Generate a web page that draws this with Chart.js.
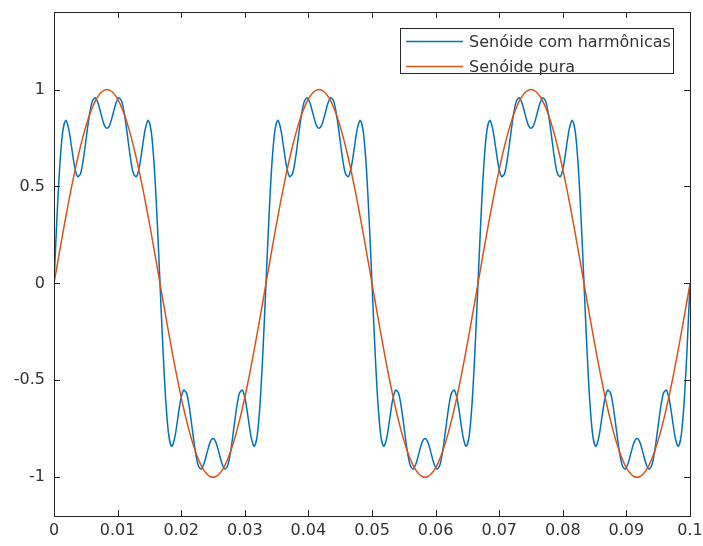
<!DOCTYPE html>
<html>
<head>
<meta charset="utf-8">
<script src="https://cdn.jsdelivr.net/npm/chart.js@4.4.1/dist/chart.umd.min.js"></script>
<style>
  html, body { margin: 0; padding: 0; background: #fff; }
  #grafico { display: block; }
</style>
</head>
<body>
<canvas id="grafico" width="703" height="546"></canvas>
<script>
// amostras a cada 5 graus de uma onda de 30 Hz (1/2160 s), de 0 a 0.1 s
const passo = 1 / 2160;

const comHarmonicas = [
    0, .338, .615, .787, .841, .797, .700, .603, .551, .566, .643, .756, .866, .939, .958, .928, .872, .820,
    .800, .820, .872, .928, .958, .939, .866, .756, .643, .566, .551, .603, .700, .797, .841, .787, .615, .338,
    0, -.338, -.615, -.787, -.841, -.797, -.700, -.603, -.551, -.566, -.643, -.756, -.866, -.939, -.958, -.928, -.872, -.820,
    -.800, -.820, -.872, -.928, -.958, -.939, -.866, -.756, -.643, -.566, -.551, -.603, -.700, -.797, -.841, -.787, -.615, -.338,
    0, .338, .615, .787, .841, .797, .700, .603, .551, .566, .643, .756, .866, .939, .958, .928, .872, .820,
    .800, .820, .872, .928, .958, .939, .866, .756, .643, .566, .551, .603, .700, .797, .841, .787, .615, .338,
    0, -.338, -.615, -.787, -.841, -.797, -.700, -.603, -.551, -.566, -.643, -.756, -.866, -.939, -.958, -.928, -.872, -.820,
    -.800, -.820, -.872, -.928, -.958, -.939, -.866, -.756, -.643, -.566, -.551, -.603, -.700, -.797, -.841, -.787, -.615, -.338,
    0, .338, .615, .787, .841, .797, .700, .603, .551, .566, .643, .756, .866, .939, .958, .928, .872, .820,
    .800, .820, .872, .928, .958, .939, .866, .756, .643, .566, .551, .603, .700, .797, .841, .787, .615, .338,
    0, -.338, -.615, -.787, -.841, -.797, -.700, -.603, -.551, -.566, -.643, -.756, -.866, -.939, -.958, -.928, -.872, -.820,
    -.800, -.820, -.872, -.928, -.958, -.939, -.866, -.756, -.643, -.566, -.551, -.603, -.700, -.797, -.841, -.787, -.615, -.338,
    0
];

const pura = [
    0, .087, .174, .259, .342, .423, .500, .574, .643, .707, .766, .819, .866, .906, .940, .966, .985, .996,
    1, .996, .985, .966, .940, .906, .866, .819, .766, .707, .643, .574, .500, .423, .342, .259, .174, .087,
    0, -.087, -.174, -.259, -.342, -.423, -.500, -.574, -.643, -.707, -.766, -.819, -.866, -.906, -.940, -.966, -.985, -.996,
    -1, -.996, -.985, -.966, -.940, -.906, -.866, -.819, -.766, -.707, -.643, -.574, -.500, -.423, -.342, -.259, -.174, -.087,
    0, .087, .174, .259, .342, .423, .500, .574, .643, .707, .766, .819, .866, .906, .940, .966, .985, .996,
    1, .996, .985, .966, .940, .906, .866, .819, .766, .707, .643, .574, .500, .423, .342, .259, .174, .087,
    0, -.087, -.174, -.259, -.342, -.423, -.500, -.574, -.643, -.707, -.766, -.819, -.866, -.906, -.940, -.966, -.985, -.996,
    -1, -.996, -.985, -.966, -.940, -.906, -.866, -.819, -.766, -.707, -.643, -.574, -.500, -.423, -.342, -.259, -.174, -.087,
    0, .087, .174, .259, .342, .423, .500, .574, .643, .707, .766, .819, .866, .906, .940, .966, .985, .996,
    1, .996, .985, .966, .940, .906, .866, .819, .766, .707, .643, .574, .500, .423, .342, .259, .174, .087,
    0, -.087, -.174, -.259, -.342, -.423, -.500, -.574, -.643, -.707, -.766, -.819, -.866, -.906, -.940, -.966, -.985, -.996,
    -1, -.996, -.985, -.966, -.940, -.906, -.866, -.819, -.766, -.707, -.643, -.574, -.500, -.423, -.342, -.259, -.174, -.087,
    0
];

const xTicks = [0, 0.01, 0.02, 0.03, 0.04, 0.05, 0.06, 0.07, 0.08, 0.09, 0.1];
const xRotulos = ["0", "0.01", "0.02", "0.03", "0.04", "0.05", "0.06", "0.07", "0.08", "0.09", "0.1"];
const yTicks = [-1, -0.5, 0, 0.5, 1];
const yRotulos = ["-1", "-0.5", "0", "0.5", "1"];

const nomes = ["Senóide com harmônicas", "Senóide pura"];
const azul = "#0072BD";
const laranja = "#D95319";
const fonte = "'DejaVu Sans', sans-serif";
const cinza = "#333333";

const pontos = serie => serie.map((v, i) => ({ x: i * passo, y: v }));

// caixa com ticks para dentro + legenda, estilo matlab
const moldura = {
    id: "moldura",
    afterDraw(chart) {
        const { ctx, chartArea: a, scales } = chart;
        ctx.save();
        ctx.strokeStyle = "#262626";
        ctx.lineWidth = 1;
        ctx.strokeRect(a.left + 0.5, a.top + 0.5, a.right - a.left, a.bottom - a.top);

        ctx.beginPath();
        xTicks.forEach(v => {
            const px = Math.round(scales.x.getPixelForValue(v)) + 0.5;
            ctx.moveTo(px, a.bottom); ctx.lineTo(px, a.bottom - 6);
            ctx.moveTo(px, a.top); ctx.lineTo(px, a.top + 6);
        });
        yTicks.forEach(v => {
            const py = Math.round(scales.y.getPixelForValue(v)) + 0.5;
            ctx.moveTo(a.left, py); ctx.lineTo(a.left + 6, py);
            ctx.moveTo(a.right, py); ctx.lineTo(a.right - 6, py);
        });
        ctx.stroke();

        // legenda
        ctx.fillStyle = "#fff";
        ctx.fillRect(401, 28, 272, 45);
        ctx.strokeRect(400.5, 28.5, 273, 45);
        const cores = [azul, laranja];
        ctx.font = "16px " + fonte;
        ctx.textBaseline = "middle";
        nomes.forEach((nome, i) => {
            const y = 41.5 + i * 25;
            ctx.strokeStyle = cores[i];
            ctx.lineWidth = 1.5;
            ctx.beginPath();
            ctx.moveTo(406, y);
            ctx.lineTo(463, y);
            ctx.stroke();
            ctx.fillStyle = cinza;
            ctx.fillText(nome, 469, y + 1.5);
        });
        ctx.restore();
    }
};

const semPadding = s => {
    s.paddingTop = 0;
    s.paddingBottom = 0;
    s.paddingLeft = 0;
    s.paddingRight = 0;
};

const ctx = document.getElementById("grafico");

new Chart(ctx, {
    type: "line",
    data: {
        datasets: [{
            label: nomes[0],
            data: pontos(comHarmonicas),
            borderColor: azul,
            borderWidth: 1.5,
            pointRadius: 0,
            tension: 0.3,
            order: 1
        }, {
            label: nomes[1],
            data: pontos(pura),
            borderColor: laranja,
            borderWidth: 1.5,
            pointRadius: 0,
            tension: 0.3,
            order: 0
        }]
    },
    options: {
        responsive: false,
        animation: false,
        layout: {
            padding: { top: 12, right: 13, left: 0, bottom: 0 }
        },
        plugins: {
            legend: { display: false },
            tooltip: { enabled: false }
        },
        scales: {
            x: {
                type: "linear",
                min: 0,
                max: 0.1,
                grid: { display: false, drawTicks: false },
                border: { display: false },
                afterBuildTicks: s => { s.ticks = xTicks.map(v => ({ value: v })); },
                afterFit: s => { s.height = 30; semPadding(s); },
                ticks: {
                    autoSkip: false,
                    maxRotation: 0,
                    padding: 5,
                    color: cinza,
                    font: { family: fonte, size: 16 },
                    callback: (v, i) => xRotulos[i]
                }
            },
            y: {
                min: -1.2,
                max: 1.4,
                grid: { display: false, drawTicks: false },
                border: { display: false },
                afterBuildTicks: s => { s.ticks = yTicks.map(v => ({ value: v })); },
                afterFit: s => { s.width = 54; semPadding(s); },
                ticks: {
                    autoSkip: false,
                    padding: 9,
                    color: cinza,
                    font: { family: fonte, size: 16 },
                    callback: (v, i) => yRotulos[i]
                }
            }
        }
    },
    plugins: [moldura]
});
</script>
</body>
</html>
